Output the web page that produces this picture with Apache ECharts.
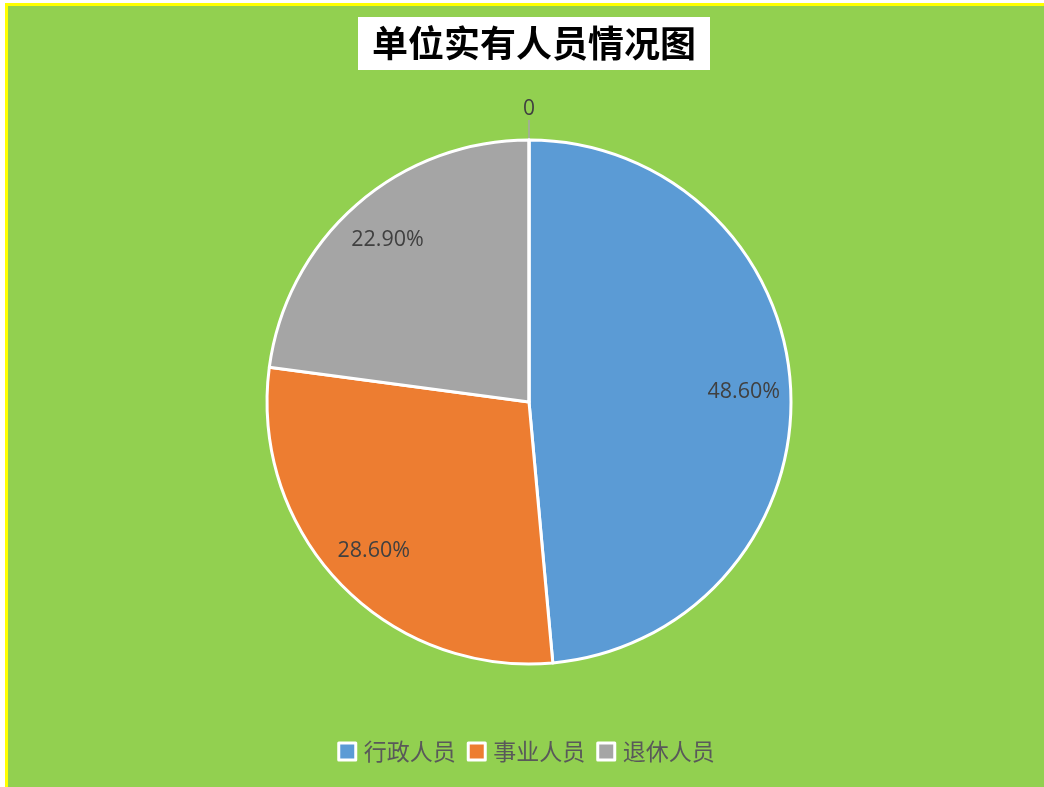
<!DOCTYPE html>
<html>
<head>
<meta charset="utf-8">
<script src="https://cdn.jsdelivr.net/npm/echarts@6/dist/echarts.min.js"></script>
<style>
html,body{margin:0;padding:0;background:#fff;overflow:hidden;width:1044px;height:787px;}
#wrap{position:absolute;left:5px;top:3px;border-left:3px solid #FFFF00;border-top:3px solid #FFFF00;background:#92D050;width:1036px;height:781px;}
#chart{width:1036px;height:781px;}
</style>
</head>
<body>
<div id="wrap"><div id="chart"></div></div>
<script>
const titleText = '单位实有人员情况图';
const categories = ['行政人员', '事业人员', '退休人员', ''];
const values = [48.6, 28.6, 22.9, 0];
const colors = ['#5B9BD5', '#ED7D31', '#A5A5A5', '#FFC000'];

const chart = echarts.init(document.getElementById('chart'));
const mainData = categories.map((c, i) => ({
  name: c,
  value: values[i],
  itemStyle: { color: colors[i] },
  label: values[i] === 0
    ? { show: true, position: 'outside', distanceToLabelLine: 0, formatter: '0', color: '#404040', fontSize: 21, fontFamily: 'Open Sans' }
    : { show: false },
  labelLine: values[i] === 0
    ? { show: true, length: 20, length2: 0, lineStyle: { color: '#A6A6A6', width: 1.5 } }
    : { show: false }
}));
const labelData = categories.map((c, i) => ({
  name: c,
  value: values[i],
  label: { show: values[i] !== 0 }
}));

chart.setOption({
  animation: false,
  title: {
    text: titleText,
    left: 350,
    top: 11,
    backgroundColor: '#ffffff',
    padding: [8, 14, 9, 14],
    textStyle: { color: '#000', fontSize: 36, fontWeight: 'bold', fontFamily: 'Noto Sans CJK SC' }
  },
  legend: {
    data: categories.slice(0, 3),
    left: 'center',
    top: 729,
    icon: 'rect',
    itemWidth: 17,
    itemHeight: 17,
    itemGap: 11,
    itemStyle: { borderColor: '#ffffff', borderWidth: 3 },
    textStyle: { color: '#595959', fontSize: 23, fontFamily: 'Noto Sans CJK SC', padding: [0, 0, 0, 3] }
  },
  series: [
    {
      type: 'pie',
      center: [521, 396],
      radius: [0, 262],
      startAngle: 90,
      clockwise: true,
      avoidLabelOverlap: false,
      itemStyle: { borderColor: '#ffffff', borderWidth: 3 },
      emphasis: { disabled: true },
      labelLayout: function () { return { align: 'center', verticalAlign: 'bottom' }; },
      data: mainData
    },
    {
      type: 'pie',
      center: [521, 396],
      radius: [162, 262],
      startAngle: 90,
      clockwise: true,
      silent: true,
      avoidLabelOverlap: false,
      itemStyle: { color: 'rgba(0,0,0,0)' },
      label: {
        position: 'inside',
        color: '#404040',
        fontSize: 21.5,
        fontFamily: 'Open Sans',
        formatter: p => p.value.toFixed(2) + '%'
      },
      labelLine: { show: false },
      emphasis: { disabled: true },
      data: labelData
    }
  ]
});
</script>
</body>
</html>
